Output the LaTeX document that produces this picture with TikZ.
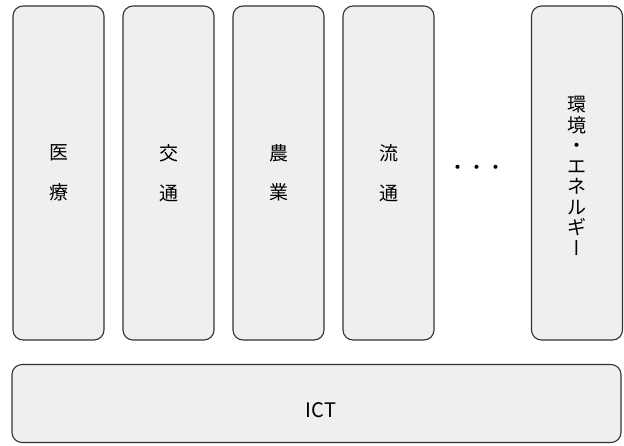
\documentclass[tikz,border=0pt]{standalone}
\usepackage{fontspec}
\setmainfont{Noto Sans CJK JP}
\newfontfamily\cjkv[RawFeature=+vert]{Noto Sans CJK JP}
\definecolor{boxfill}{HTML}{EEEFEF}
\definecolor{boxline}{HTML}{333333}
\begin{document}
\begin{tikzpicture}[x=1pt,y=-1pt,
  sector/.style={draw=boxline,fill=boxfill,line width=1.1pt,rounded corners=10pt,
    minimum width=91pt,minimum height=334pt,inner sep=0pt,
    font=\fontsize{19}{19.5}\selectfont,align=center},
  base/.style={draw=boxline,fill=boxfill,line width=1.1pt,rounded corners=10pt,
    minimum width=609pt,minimum height=78pt,inner sep=0pt,font=\fontsize{20}{22}\selectfont}]
\useasboundingbox (0,0) rectangle (624,445);
\node[sector] (med) at (58.5,173) {医\\[20pt]療};
\node[sector] (tra) at (168.5,173) {交\\[20pt]通};
\node[sector] (agr) at (278.5,173) {農\\[20pt]業};
\node[sector] (dis) at (388.5,173) {流\\[20pt]通};
\node[font=\fontsize{19}{19.5}\selectfont,inner sep=0pt] (dots) at (477,170) {・・・};
\node[sector] (env) at (577,173) {};
\node[font=\fontsize{19}{20.5}\selectfont,align=center,inner sep=0pt] (envtext) at (577,176) {環\\境\\・\\エ\\ネ\\ル\\ギ\\{\cjkv ー}};
\node[base] (ict) at (316.5,403.5) {};
\node[font=\fontsize{20}{22}\selectfont,inner sep=0pt] (icttext) at (321,410) {ICT};
\end{tikzpicture}
\end{document}
